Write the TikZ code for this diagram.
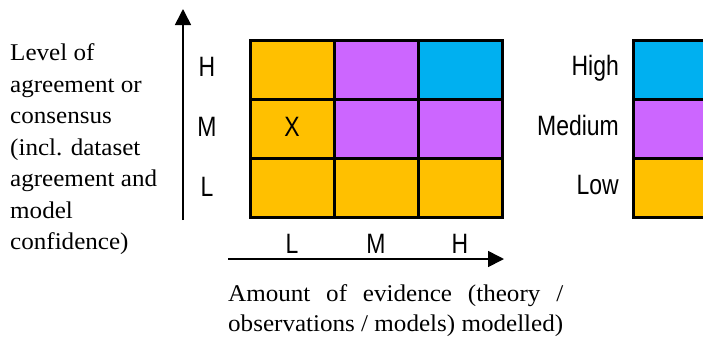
\documentclass[tikz,border=0pt]{standalone}
\usepackage{fontspec}
\setmainfont[FakeStretch=1.045]{Liberation Serif}
\newfontfamily\labfont[FakeStretch=0.82]{Liberation Sans}
\usetikzlibrary{arrows.meta}
\definecolor{lowc}{HTML}{FFC000}
\definecolor{medc}{HTML}{CC66FF}
\definecolor{highc}{HTML}{00B0F0}
\tikzset{
  cell/.style={draw=black, line width=3pt, minimum width=84pt, minimum height=59pt, inner sep=0pt, outer sep=0pt},
  lab/.style={font=\labfont\fontsize{28}{30}\selectfont, inner sep=0pt},
  serif/.style={font=\fontsize{24}{31.5}\selectfont, inner sep=0pt},
  axis/.style={line width=1.6pt, -{Triangle[length=16pt,width=16pt]}}
}
\begin{document}
\begin{tikzpicture}[x=1pt,y=-1pt]
\useasboundingbox (0,0) rectangle (703,338);
% grid
\node[cell, fill=lowc]  (c11) at (292,69.5) {};
\node[cell, fill=medc]  (c12) at (376,69.5) {};
\node[cell, fill=highc] (c13) at (460,69.5) {};
\node[cell, fill=lowc]  (c21) at (292,128.5) {};
\node[cell, fill=medc]  (c22) at (376,128.5) {};
\node[cell, fill=medc]  (c23) at (460,128.5) {};
\node[cell, fill=lowc]  (c31) at (292,187.5) {};
\node[cell, fill=lowc]  (c32) at (376,187.5) {};
\node[cell, fill=lowc]  (c33) at (460,187.5) {};
\node[lab, anchor=base] (x) at (292,136) {X};
% row labels
\node[lab, anchor=base] (rh) at (207,76) {H};
\node[lab, anchor=base] (rm) at (207,136) {M};
\node[lab, anchor=base] (rl) at (207,196) {L};
% column labels
\node[lab, anchor=base] (cl) at (292,253) {L};
\node[lab, anchor=base] (cm) at (376,253) {M};
\node[lab, anchor=base] (ch) at (460,253) {H};
% axes
\coordinate (ytail) at (183,220);
\coordinate (yhead) at (183,9);
\coordinate (xtail) at (228,259);
\coordinate (xhead) at (504,259);
\draw[axis] (ytail) -- (yhead);
\draw[axis] (xtail) -- (xhead);
% legend
\node[cell, fill=highc] (lh) at (675,69.5) {};
\node[cell, fill=medc]  (lm) at (675,128.5) {};
\node[cell, fill=lowc]  (ll) at (675,187.5) {};
\node[lab, anchor=base east] (th) at (619,75) {High};
\node[lab, anchor=base east] (tm) at (619,135) {Medium};
\node[lab, anchor=base east] (tl) at (619,194) {Low};
% texts
\node[serif, anchor=north west, align=left] (ylab) at (10,43.6)
  {Level of\\agreement or\\consensus\\(incl. dataset\\agreement and\\model\\confidence)};
\node[serif, font=\fontsize{24}{30}\selectfont, anchor=north west, text width=335pt, align=justify] (xlab) at (228,284.6)
  {Amount of evidence (theory /\linebreak observations / models) modelled)};
\end{tikzpicture}
\end{document}
